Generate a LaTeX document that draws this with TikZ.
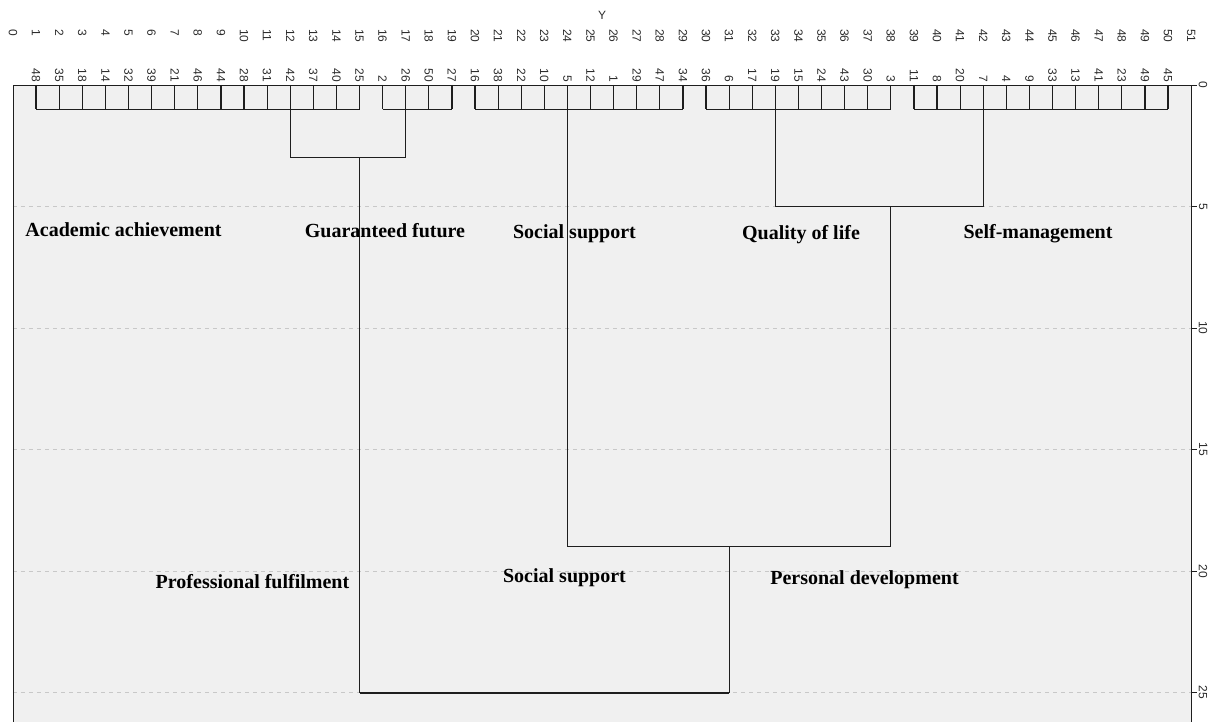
\documentclass[tikz,border=0pt]{standalone}
\usepackage{fontspec}
\setmainfont{Liberation Serif}
\newfontfamily\axisfont{Liberation Sans}
\usetikzlibrary{calc}
\definecolor{Panel}{HTML}{F0F0F0}
\definecolor{GridGray}{HTML}{C8C8C8}
\definecolor{Branch}{HTML}{1E1E1E}
\definecolor{TickInk}{HTML}{2B2B2B}
\tikzset{
  panel/.style={fill=Panel},
  gridline/.style={draw=GridGray, line width=0.8pt, dash pattern=on 4pt off 4pt},
  frame/.style={draw=Branch, line width=0.9pt},
  branch/.style={draw=Branch, line width=1.2pt},
  rootbranch/.style={draw=Branch, line width=2pt},
  ticklab/.style={font=\axisfont\fontsize{12}{13}\selectfont, text=TickInk,
    inner sep=0pt, rotate=-90},
  leaflab/.style={ticklab, anchor=east},
  cluster/.style={font=\fontsize{20}{24}\selectfont\bfseries, inner sep=0pt, anchor=base}
}

\begin{document}
\begin{tikzpicture}[x=23.1pt,y=-24.3pt]
    \useasboundingbox (-13pt,85pt) rectangle (1196pt,-637pt);
    \coordinate (pTL) at (0,0);
    \coordinate (pBR) at (1178.1pt,-637pt);
    \fill[panel] (pTL) rectangle (pBR);
    \foreach \h in {5,10,...,25}
      \draw[gridline] (0,\h) -- (51,\h);
    \node[font=\axisfont\fontsize{12}{13}\selectfont, text=TickInk] (ytitle) at (589pt,70pt) {Y};
    \foreach \k in {0,...,51}
      \node[ticklab, anchor=west] (xt\k) at ([yshift=56pt]\k,0) {\k};
    \foreach \lab [count=\i] in {48,35,18,14,32,39,21,46,44,28,31,42,37,40,25,2,26,50,27,
        16,38,22,10,5,12,1,29,47,34,36,6,17,19,15,24,43,30,3,11,8,20,7,4,9,33,13,41,23,49,45} {
      \coordinate (t\i) at (\i,0);
      \coordinate (b\i) at (\i,1);
      \draw[branch] (t\i) -- (b\i);
      \node[leaflab] (leaf\i) at ([yshift=3pt]t\i) {\lab};
    }
    \draw[branch] (b1) -- (b15);
    \draw[branch] (b16) -- (b19);
    \draw[branch] (b20) -- (b29);
    \draw[branch] (b30) -- (b38);
    \draw[branch] (b39) -- (b50);
    \coordinate (mA) at (15,3);
    \coordinate (mB) at (38,5);
    \coordinate (mD) at (31,19);
    \coordinate (mR) at (23,25);
    \draw[branch] (b12) |- (mA) -| (b17);
    \draw[branch] (b33) |- (mB) -| (b42);
    \draw[branch] (b24) |- (mD) -| (mB);
    \draw[branch] (mA) -- (mA |- mR);
    \draw[branch] (mD) -- (mD |- mR);
    \draw[rootbranch] (mA |- mR) -- (mD |- mR);
    \draw[frame] (pTL |- pBR) -- (pTL) -- (pTL -| pBR) -- (pBR);
    \foreach \h in {0,5,...,25} {
      \draw[frame] (51,\h) -- ++(6pt,0);
      \node[ticklab] (yt\h) at ([xshift=12pt]51,\h) {\h};
    }
    \node[cluster] (acad) at (110.5pt,-152pt) {Academic achievement};
    \node[cluster] (future) at (372pt,-153pt) {Guaranteed future};
    \node[cluster] (social) at (561.5pt,-154pt) {Social support};
    \node[cluster] (life) at (788pt,-155pt) {Quality of life};
    \node[cluster] (selfm) at (1025pt,-154pt) {Self-management};
    \node[cluster] (prof) at (239.5pt,-503pt) {Professional fulfilment};
    \node[cluster] (socialb) at (551.5pt,-497pt) {Social support};
    \node[cluster] (persdev) at (851.5pt,-499pt) {Personal development};
  \end{tikzpicture}
\end{document}
